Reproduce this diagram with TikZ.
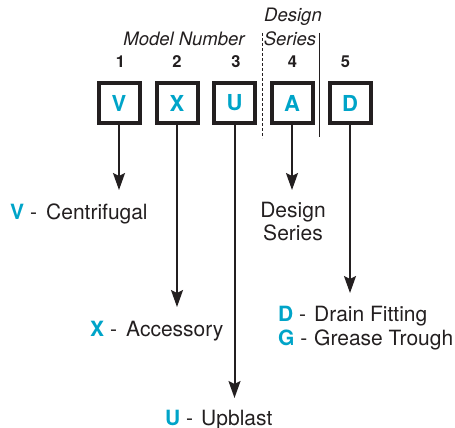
\documentclass[tikz,border=0pt]{standalone}
\usepackage{fontspec}
\setmainfont{TeX Gyre Heros}
\usetikzlibrary{arrows.meta}
\definecolor{cyn}{RGB}{0,164,200}
\definecolor{ink}{RGB}{35,31,32}
\newcommand{\codelbl}[2]{\makebox[36pt][l]{\textcolor{cyn}{\bfseries #1} -}#2}

\begin{document}
\begin{tikzpicture}[x=1pt, y=-1pt, ink,
  arr/.style={-{Stealth[length=17pt, width=12pt, inset=3pt]}, line width=2pt},
  codebox/.style={draw, line width=4pt, minimum width=41pt, minimum height=40pt,
    inner sep=0pt, font=\fontsize{22}{26}\selectfont\bfseries, text=cyn},
  num/.style={font=\fontsize{16.5}{19}\selectfont\bfseries},
  head/.style={font=\fontsize{18.5}{22}\selectfont\itshape},
  lbl/.style={font=\fontsize{21}{25}\selectfont, anchor=base west, inner sep=0pt}
]
\useasboundingbox (0,0) rectangle (455,428);

% Headings
\node[head] (design) at (293,17) {Design};
\node[head] (model) at (184,39) {Model Number};
\node[head] (series) at (290,39) {Series};

% Separators
\draw[thin, dash pattern=on 3pt off 2pt] (262,33) -- (262,138);
\draw[thin] (319,33) -- (319,137);

% Boxes and position numbers
\foreach \c/\x/\nx/\n in {V/119/120.5/1, X/177/177/2, U/234.5/236/3, A/292/292.5/4, D/350/345.5/5}{
  \node[codebox] (box\c) at (\x,103) {\c};
  \node[num] (n\n) at (\nx,62) {\n};
}

% Arrow ends
\coordinate (endV) at (119,190);
\coordinate (endX) at (177,307);
\coordinate (endU) at (234.5,398);
\coordinate (endA) at (292,190);
\coordinate (endD) at (350,293);

% Arrows
\foreach \c in {V,X,U,A,D}{
  \draw[arr] (box\c.south) -- (end\c);
}

% Meanings
\node[lbl] (lblV) at (10,219) {\codelbl{V}{Centrifugal}};
\node[lbl] (lblX) at (90,336) {\codelbl{X}{Accessory}};
\node[lbl] (lblU) at (165,425) {\codelbl{U}{Upblast}};
\node[lbl, anchor=base] (lblA1) at (293,217) {Design};
\node[lbl, anchor=base] (lblA2) at (293,240) {Series};
\node[lbl] (lblD) at (278,321.5) {\codelbl{D}{Drain Fitting}};
\node[lbl] (lblG) at (278,345) {\codelbl{G}{Grease Trough}};

\end{tikzpicture}
\end{document}
